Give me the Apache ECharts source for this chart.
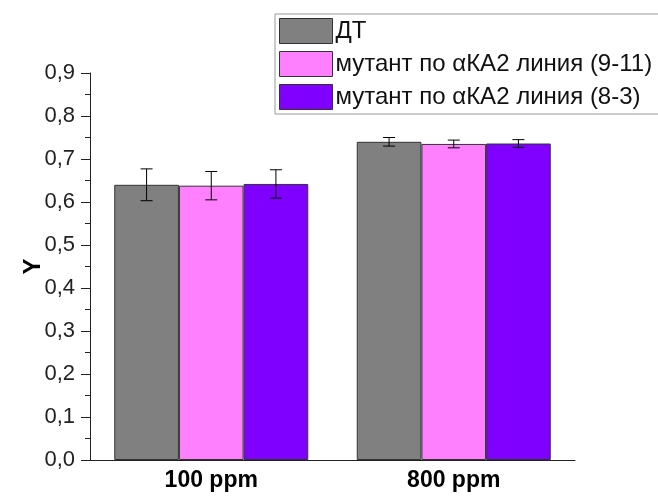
<!DOCTYPE html>
<html>
<head>
<meta charset="utf-8">
<script src="https://cdn.jsdelivr.net/npm/echarts@6/dist/echarts.min.js"></script>
<style>
html,body{margin:0;padding:0;background:#fff;}
#chart{width:658px;height:497px;}
</style>
</head>
<body>
<div id="chart"></div>
<script>
var categories = ['100 ppm', '800 ppm'];
var seriesNames = ['ДТ', 'мутант по αКА2 линия (9-11)', 'мутант по αКА2 линия (8-3)'];
var dtValues = [0.640, 0.740];
var line911Values = [0.638, 0.735];
var line83Values = [0.642, 0.736];
var dtErrors = [0.037, 0.010];
var line911Errors = [0.033, 0.009];
var line83Errors = [0.033, 0.009];
var yTicks = [0, 0.1, 0.2, 0.3, 0.4, 0.5, 0.6, 0.7, 0.8, 0.9];
var colors = ['#808080', '#ff80ff', '#8000ff'];

var allValues = [dtValues, line911Values, line83Values];
var allErrors = [dtErrors, line911Errors, line83Errors];
var CAT_GAP = 0.2;

var chart = echarts.init(document.getElementById('chart'));
var series = [];
for (var s = 0; s < 3; s++) {
  series.push({
    name: seriesNames[s],
    type: 'bar',
    data: allValues[s],
    barGap: '0%',
    barCategoryGap: '20%',
    itemStyle: {color: colors[s], borderColor: '#333', borderWidth: 1},
    z: 2
  });
}
for (var s2 = 0; s2 < 3; s2++) {
  (function (si) {
    var data = categories.map(function (c, i) {
      return [i, allValues[si][i], allErrors[si][i]];
    });
    series.push({
      type: 'custom',
      name: 'err' + si,
      data: data,
      z: 5,
      renderItem: function (params, api) {
        var ci = api.value(0), v = api.value(1), e = api.value(2);
        var band = api.size([1, 0])[0];
        var groupW = band * (1 - CAT_GAP);
        var barW = groupW / 3;
        var center = api.coord([ci, v]);
        var x = center[0] - groupW / 2 + barW * (si + 0.5);
        var top = api.coord([ci, v + e])[1];
        var bot = api.coord([ci, v - e])[1];
        var cap = 6;
        var st = {stroke: '#000', lineWidth: 1};
        return {
          type: 'group',
          children: [
            {type: 'line', shape: {x1: x, y1: top, x2: x, y2: bot}, style: st},
            {type: 'line', shape: {x1: x - cap, y1: top, x2: x + cap, y2: top}, style: st},
            {type: 'line', shape: {x1: x - cap, y1: bot, x2: x + cap, y2: bot}, style: st}
          ]
        };
      }
    });
  })(s2);
}

chart.setOption({
  animation: false,
  backgroundColor: '#fff',
  textStyle: {fontFamily: 'Liberation Sans, Arial, sans-serif'},
  legend: {
    data: seriesNames,
    orient: 'vertical',
    left: 275,
    top: 14,
    icon: 'rect',
    itemWidth: 53,
    itemHeight: 25,
    itemGap: 7,
    padding: [4, 20, 4, 4],
    borderColor: '#999',
    borderWidth: 1,
    textStyle: {fontSize: 24, color: '#111', padding: [0, 0, 0, -2]},
    itemStyle: {borderColor: '#333', borderWidth: 1}
  },
  grid: {left: 90, right: 83, top: 73, bottom: 37},
  xAxis: {
    type: 'category',
    data: categories,
    axisLine: {lineStyle: {color: '#222', width: 1}},
    axisTick: {show: false},
    axisLabel: {fontSize: 23, fontWeight: 'bold', color: '#000', margin: 9}
  },
  yAxis: {
    type: 'value',
    min: 0,
    max: 0.9,
    interval: 0.1,
    name: 'Y',
    nameLocation: 'middle',
    nameGap: 45,
    nameMoveOverlap: false,
    nameRotate: 90,
    nameTextStyle: {fontSize: 24, fontWeight: 'bold', color: '#000'},
    axisLine: {show: true, lineStyle: {color: '#222', width: 1}},
    axisTick: {show: true, length: 9, lineStyle: {color: '#222'}},
    minorTick: {show: true, splitNumber: 2, length: 5, lineStyle: {color: '#222'}},
    splitLine: {show: false},
    axisLabel: {
      fontSize: 22, color: '#222', margin: 15,
      formatter: function (v) {
        var idx = yTicks.indexOf(Math.round(v * 10) / 10);
        return (idx >= 0 ? yTicks[idx] : v).toFixed(1).replace('.', ',');
      }
    }
  },
  series: series
});
</script>
</body>
</html>
